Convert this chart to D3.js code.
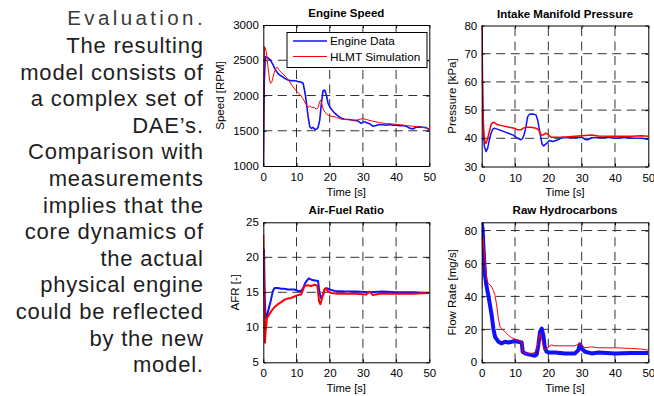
<!DOCTYPE html>
<html><head><meta charset="utf-8">
<script src="https://cdn.jsdelivr.net/npm/d3@7"></script>
<style>body{margin:0;background:#fff}svg{display:block}text{font-family:"Liberation Sans",Arial,sans-serif}</style>
</head><body><svg id="c" width="654" height="396"></svg>
<script>
// ---------- text ----------
const headingText = "Evaluation.";
const bodyLines = ["The resulting","model consists of","a complex set of","DAE\u2019s.","Comparison with","measurements","implies that the","core dynamics of","the actual","physical engine","could be reflected","by the  new","model."];
const legendLabels = ["Engine Data","HLMT Simulation"];
const panelTitles = ["Engine Speed","Intake Manifold Pressure","Air-Fuel Ratio","Raw Hydrocarbons"];
const yLabels = ["Speed [RPM]","Pressure [kPa]","AFR [-]","Flow Rate [mg/s]"];
const xLabel = "Time [s]";

// ---------- ticks ----------
const timeTicks = [0,10,20,30,40,50];
const speedTicks = [1000,1500,2000,2500,3000];
const pressureTicks = [30,40,50,60,70,80];
const afrTicks = [5,10,15,20,25];
const hcTicks = [0,20,40,60,80];

// ---------- Engine speed ----------
const speedDataT = [0,0.3,0.6,1,1.5,2,2.4,3,3.4,4,4.4,5,5.4,6,6.4,7,7.4,8,8.4,9,9.4,10,10.4,11,11.4,12,12.4,12.7,13,13.5,14,14.5,15,15.5,16,16.5,17,17.5,18,18.5,19,19.5,20,20.5,21.5,22.5,23.5,24.5,26,27,28.5,29.5,30.5,31,32,33,34,35,36,37,38,39,40,41,42,43,44,45,46,47,48,49,50];
const speedData  = [1000,2200,2550,2545,2530,2510,2480,2430,2385,2340,2314,2290,2276,2260,2243,2230,2220,2215,2206,2212,2210,2205,2197,2195,2187,2173,2078,2000,1890,1700,1557,1533,1547,1520,1522,1547,1650,1890,2068,2078,2007,1890,1843,1805,1749,1711,1678,1664,1660,1650,1640,1605,1630,1616,1600,1565,1575,1588,1585,1578,1590,1580,1578,1570,1575,1565,1540,1525,1550,1555,1550,1545,1515];
const speedSimT = [0,0.2,0.4,0.9,1.4,1.9,2.2,2.6,3.2,3.9,4.2,4.9,5.9,6.9,7.9,8.9,9.9,10.9,11.9,13,13.5,14,14.5,15,15.5,16,16.5,17,17.3,17.7,18.2,19,20,21,22,23.5,25,28,30,31,33,35,37,40,43,45,47,50];
const speedSim  = [1000,2300,2693,2622,2410,2220,2173,2196,2315,2395,2400,2352,2305,2258,2196,2125,2068,2020,1960,1866,1833,1852,1833,1833,1825,1805,1830,1913,1937,1866,1787,1740,1711,1702,1692,1664,1659,1650,1673,1660,1635,1616,1602,1592,1574,1564,1555,1531];

// ---------- Intake manifold pressure ----------
const mapDataT = [0,0.15,0.3,0.5,0.8,1.3,1.8,2.3,2.8,3.3,3.8,5.3,7.3,9.3,10.8,11.8,12.3,12.8,13.3,13.8,14.3,15.3,16.3,16.8,17.5,18.1,18.6,19.3,20.3,21.3,22.3,23.3,24.3,25,27,30,31,32,33,35,38,40,43,45,48,50];
const mapData  = [85,63,52,42,37.1,35.3,36.5,39.5,41.8,43.2,43.6,43.0,42.1,41.2,40.0,39.5,40.0,41.5,44.2,47.7,48.5,48.6,48.3,46.5,41.8,38.0,37.3,38,39.2,38.9,39.2,39.7,40.4,40.2,40.3,40.4,39.6,39.5,40.2,40.3,40.4,40.0,40.3,40.1,40.0,39.7];
const mapSimT = [0,0.2,0.4,0.7,1,1.3,1.8,2.3,2.8,3.3,3.8,4.8,6.3,8.3,9.8,10.8,11.8,12.5,13.3,14.8,16.3,17.1,17.8,18.5,19.3,20.1,20.8,22.3,24.3,27,30,33,35,40,45,48,50];
const mapSim  = [85,67,49,41,38.5,38.2,40,42.4,44.8,45.6,45.6,44.8,44.4,43.9,43.6,43.0,43.0,43.6,43.9,43.9,43.6,43,41.2,41.2,41.8,41.2,40.4,40.4,40.4,40.6,40.9,41.2,40.8,40.7,40.7,40.9,40.7];

// ---------- Air-fuel ratio ----------
const afrDataT = [0,0.2,0.45,0.7,1.2,1.7,2.2,2.9,3.4,4.4,5.4,6.4,7.4,8.4,9.4,10.4,11.4,12,12.4,13,13.7,14.5,15.5,16.5,16.8,17.3,18,18.5,19,20,21.5,24.5,28,32,36,40,45,50];
const afrData  = [21.1,21.1,14,11.3,11.8,12.8,13.7,15.2,15.6,15.6,15.5,15.5,15.4,15.4,15.4,15.2,15.2,15.6,16.1,16.6,17.0,16.8,16.7,16.6,15.4,14.2,14.6,15.4,15.6,15.4,15.2,15.1,15.1,15.0,15.1,15.0,15.0,14.9];
const afrSimT = [0,0.5,0.7,1.1,1.6,2.4,3.4,4.4,5.4,6.4,7.4,8.4,9.4,10.4,11.4,12,12.4,13.4,14.5,15.5,16.3,16.8,17.2,17.7,18.5,19,19.5,20.5,22.5,24.5,28,31,32,33,35,40,45,50];
const afrSim  = [23.3,7.8,9.4,11.3,11.7,12.3,12.9,13.3,13.6,13.95,14.1,14.2,14.4,14.6,14.7,15.4,15.9,16,15.9,16.1,15.9,13.7,13.3,14.2,15.5,15.5,15.1,14.9,14.8,14.8,14.8,14.7,15.1,14.6,14.8,14.8,14.8,14.9];

// ---------- Raw hydrocarbons ----------
const hcDataT = [0,0.3,0.5,1,1.5,2,2.5,3,3.5,4,5,6,7,8,9,10,11,12,12.3,13,14,15,16,16.5,17,17.5,18,18.5,19,19.5,20,22,25,28,29,29.5,30,31,33,35,40,45,50];
const hcData  = [85,80,70.8,52.7,45.6,40.6,34.6,28.5,20.5,15.5,12.5,11.5,12.5,12,12.5,12.9,12.5,12,6.4,5.4,4.8,4.4,4,4.8,10.5,18.5,20.5,16.5,8.4,6.4,6,6,5.4,5.4,7.4,10.9,8.4,6.4,5.4,6,5.4,5.6,5.6];
const hcSimT = [0,0.4,1,1.5,2,2.5,3,3.5,4,4.5,5,5.5,6,7,8,9,10,11,12,12.3,13,15,16,16.8,17.3,17.7,18.2,18.7,19.3,20,21,22,25,28,29.5,30,31,33,35,40,45,48,50];
const hcSim  = [45,76,62,50.6,47.6,47,45.6,43.6,40.6,34.6,26.5,21.5,20.5,18.5,16.5,14.9,14.1,13.5,12.5,6.4,5.4,5.4,6,10.5,16.5,17.5,12.5,7.4,8,9.4,10.5,10,10,10,11.5,10.5,8.8,9.4,8.8,8.8,8.4,8,7.4];

// ---------- layout ----------
const BLUE = "#1010ff", RED = "#ff0000";
const zip = (t, v) => t.map((d, i) => [d, v[i]]);
const panels = [
  {x0:263.3,x1:429.3,y0:25,y1:166,dom:[1000,3000],ticks:speedTicks,ylOff:39.5,
   series:[{d:zip(speedDataT,speedData),c:BLUE,w:1.6},{d:zip(speedSimT,speedSim),c:RED,w:1}]},
  {x0:481.7,x1:648.3,y0:25.5,y1:166.5,dom:[30,80],ticks:pressureTicks,ylOff:26,
   series:[{d:zip(mapDataT,mapData),c:BLUE,w:1.5},{d:zip(mapSimT,mapSim),c:RED,w:1.5}]},
  {x0:263.3,x1:429.3,y0:222.3,y1:362.3,dom:[5,25],ticks:afrTicks,ylOff:24.5,
   series:[{d:zip(afrDataT,afrData),c:BLUE,w:2},{d:zip(afrSimT,afrSim),c:RED,w:2}]},
  {x0:481.7,x1:648.3,y0:222.3,y1:362.3,dom:[0,85],ticks:hcTicks,ylOff:26,
   series:[{d:zip(hcDataT,hcData),c:BLUE,w:4},{d:zip(hcSimT,hcSim),c:RED,w:1}]}
];

const svg = d3.select("#c");
const FONT = '"Liberation Sans", Arial, sans-serif';

// left text
const tg = svg.append("g");
tg.append("text").attr("x",206).attr("y",25).attr("text-anchor","end")
  .attr("font-size",20.5).attr("letter-spacing",3.4).attr("fill","#3a3a3a")
  .text(headingText);
bodyLines.forEach((s,i)=>{
  tg.append("text").attr("x",203.8).attr("y",53+i*26.6).attr("text-anchor","end")
    .attr("font-size",22).attr("letter-spacing",0.8).attr("fill","#1e1e1e").text(s);
});

panels.forEach((p,pi)=>{
  const x = d3.scaleLinear().domain([0,50]).range([p.x0,p.x1]);
  const y = d3.scaleLinear().domain(p.dom).range([p.y1,p.y0]);
  const g = svg.append("g");
  const cid = "clip"+pi;
  g.append("clipPath").attr("id",cid).append("rect")
    .attr("x",p.x0).attr("y",p.y0).attr("width",p.x1-p.x0).attr("height",p.y1-p.y0);
  g.append("rect").attr("x",p.x0).attr("y",p.y0).attr("width",p.x1-p.x0).attr("height",p.y1-p.y0).attr("fill","#fff");
  // grid
  const grid = g.append("g").attr("stroke","#333").attr("stroke-width",1).attr("stroke-dasharray","9,5.5");
  timeTicks.slice(1,-1).forEach(t=>grid.append("line").attr("x1",x(t)).attr("x2",x(t)).attr("y1",p.y1).attr("y2",p.y0));
  p.ticks.forEach(v=>{ if (y(v)>p.y0+1 && y(v)<p.y1-1) grid.append("line").attr("y1",y(v)).attr("y2",y(v)).attr("x1",p.x0).attr("x2",p.x1); });
  // lines
  const line = d3.line().x(d=>x(d[0])).y(d=>y(d[1]));
  const lg = g.append("g").attr("clip-path",`url(#${cid})`);
  p.series.forEach(s=>{
    lg.append("path").attr("d",line(s.d)).attr("fill","none").attr("stroke",s.c)
      .attr("stroke-width",s.w).attr("stroke-linejoin","round");
  });
  // axes
  const styleAxis = a => { a.selectAll("text").attr("font-family",FONT).attr("font-size",11.5).attr("fill","#000");
    a.selectAll("line").attr("stroke","#000"); a.select(".domain").attr("stroke","#000"); };
  const ab = g.append("g").attr("transform",`translate(0,${p.y1})`)
    .call(d3.axisBottom(x).tickValues(timeTicks).tickSizeInner(-3).tickSizeOuter(0).tickPadding(7));
  styleAxis(ab);
  const at = g.append("g").attr("transform",`translate(0,${p.y0})`)
    .call(d3.axisTop(x).tickValues(timeTicks).tickSizeInner(-3).tickSizeOuter(0).tickFormat(""));
  styleAxis(at);
  const al = g.append("g").attr("transform",`translate(${p.x0},0)`)
    .call(d3.axisLeft(y).tickValues(p.ticks).tickSizeInner(-3).tickSizeOuter(0).tickPadding(4.5).tickFormat(d3.format("d")));
  styleAxis(al);
  const ar = g.append("g").attr("transform",`translate(${p.x1},0)`)
    .call(d3.axisRight(y).tickValues(p.ticks).tickSizeInner(-3).tickSizeOuter(0).tickFormat(""));
  styleAxis(ar);
  // labels
  g.append("text").attr("x",(p.x0+p.x1)/2).attr("y",p.y0-8).attr("text-anchor","middle")
    .attr("font-size",11.5).attr("font-weight","bold").text(panelTitles[pi]);
  g.append("text").attr("x",(p.x0+p.x1)/2).attr("y",p.y1+29.5).attr("text-anchor","middle")
    .attr("font-size",11.2).text(xLabel);
  g.append("text").attr("transform",`translate(${p.x0-p.ylOff},${(p.y0+p.y1)/2}) rotate(-90)`)
    .attr("text-anchor","middle").attr("font-size",11.5).text(yLabels[pi]);

  if (pi===0) {
    const L = g.append("g");
    L.append("rect").attr("x",287).attr("y",32.5).attr("width",140).attr("height",35)
      .attr("fill","#fff").attr("stroke","#000").attr("stroke-width",1);
    [BLUE,RED].forEach((c,i)=>{
      const yy = 41 + i*15.5;
      L.append("line").attr("x1",293).attr("x2",327).attr("y1",yy).attr("y2",yy).attr("stroke",c).attr("stroke-width",i?1:1.6);
      L.append("text").attr("x",330).attr("y",yy+4.2).attr("font-size",11.8).text(legendLabels[i]);
    });
  }
});
</script></body></html>
